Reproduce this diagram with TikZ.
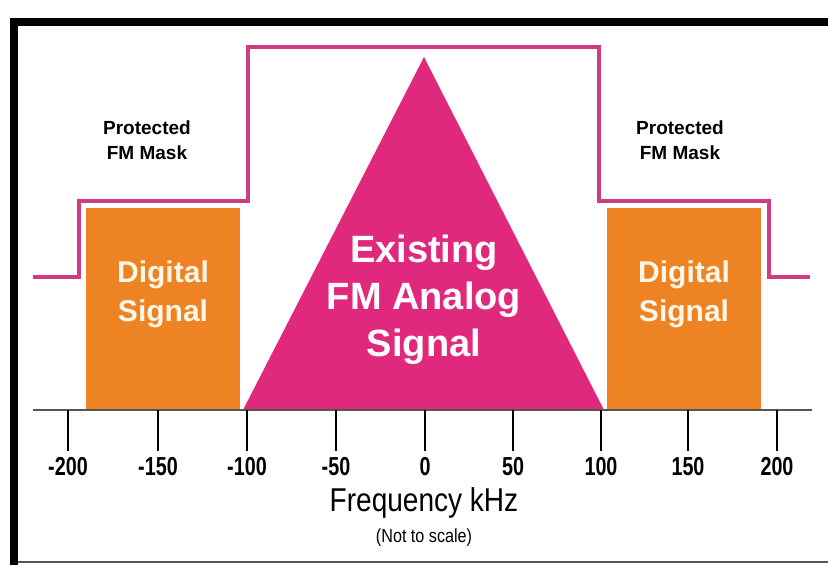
\documentclass[tikz,border=0pt]{standalone}
\usepackage{fontspec}
\setmainfont{Liberation Sans}
\newfontfamily\narrowfont[FakeStretch=0.85]{Liberation Sans}
\newfontfamily\ticknarrow[FakeStretch=0.76]{Liberation Sans}
\usepackage{tikz}
\usetikzlibrary{calc,positioning}
\definecolor{fmpink}{HTML}{E0287C}
\definecolor{maskpink}{HTML}{D03C84}
\definecolor{digorange}{HTML}{EE8323}
\definecolor{cream}{HTML}{FFF6E8}
\definecolor{axisgrey}{HTML}{555555}
\tikzset{
        digital/.style = {fill=digorange, rectangle, inner sep=0pt,
            minimum width=154pt,
            minimum height=202pt},
        sigtext/.style = {text=cream, inner sep=0pt, align=center,
            font=\bfseries\fontsize{30}{39}\selectfont},
        fmtext/.style = {text=white, inner sep=0pt, align=center,
            font=\bfseries\fontsize{38}{47}\selectfont},
        masktext/.style = {inner sep=0pt, align=center,
            font=\bfseries\fontsize{19}{25}\selectfont},
        maskline/.style = {draw=maskpink, line width=4pt},
        ticklab/.style = {inner sep=0pt, font=\ticknarrow\bfseries\fontsize{26}{26}\selectfont},
        axislab/.style = {inner sep=0pt, font=\narrowfont\fontsize{33}{33}\selectfont},
        note/.style = {inner sep=0pt, font=\narrowfont\fontsize{19}{19}\selectfont},
    }

\begin{document}
\begin{tikzpicture}[x=1pt,y=-1pt]
    \useasboundingbox (0,0) rectangle (828,565);

    % frame
    \draw[line width=8.5pt] (14,568) -- (14,22) -- (832,22);
    \draw[axisgrey, line width=1.5pt] (18,562) -- (828,562);

    % digital sidebands
    \node[digital] (dleft) at (163,309) {};
    \node[digital] (dright) at (684,309) {};
    \node[sigtext] (dltxt) at ($(dleft)+(0,-15)$) {Digital\\Signal};
    \node[sigtext] (drtxt) at ($(dright)+(0,-15)$) {Digital\\Signal};

    % analog signal
    \coordinate (apex) at (424,57);
    \coordinate (bl) at (243,410);
    \coordinate (br) at (604,410);
    \fill[fmpink] (bl) -- (apex) -- (br) -- cycle;
    \node[fmtext] (fmtxt) at (424,300) {Existing\\FM Analog\\Signal};

    % mask
    \draw[maskline] (33,277) -| (79,201) -| (248,47) -| (599,201) -| (769,277) -- (810,277);
    \node[masktext] (mleft) at (147,140) {Protected\\FM Mask};
    \node[masktext] (mright) at (680,140) {Protected\\FM Mask};

    % axis
    \draw[axisgrey, line width=2pt] (33,410) -- (812,410);
    \foreach \f/\x [count=\i] in {-200/68,-150/158,-100/247,-50/336,0/425,50/513,100/601,150/688,200/777}{
        \coordinate (k\i) at (\x,410);
        \draw[line width=1.5pt] (k\i) -- ++(0,41);
        \node[ticklab] (lab\i) at (\x,467) {\f};
    }
    \node[axislab] (freq) at (424,503) {Frequency kHz};
    \node[note, below=10pt of freq] (scale) {(Not to scale)};
\end{tikzpicture}
\end{document}
